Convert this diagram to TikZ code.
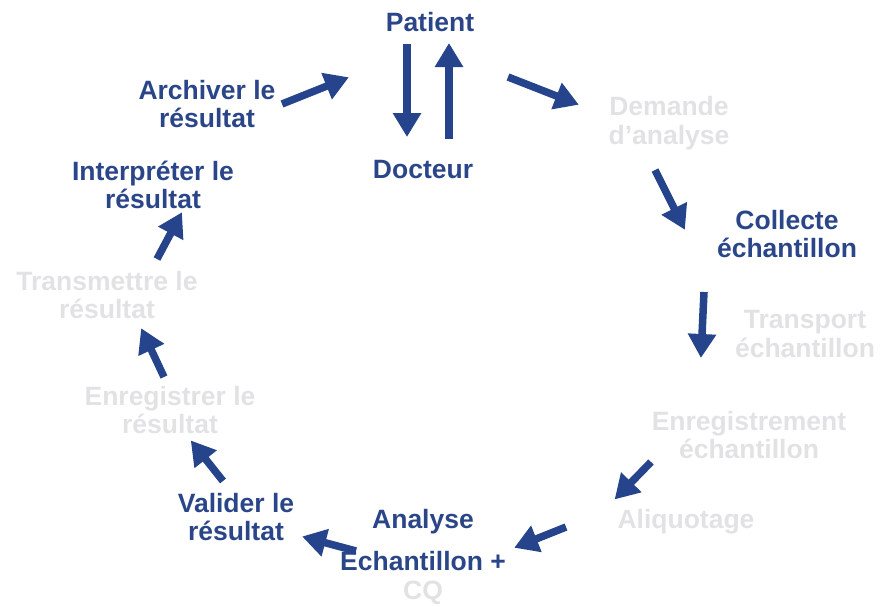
\documentclass[tikz,border=0pt]{standalone}
\usepackage{fontspec}
\setmainfont{Liberation Sans}
\usetikzlibrary{arrows.meta}
\definecolor{dblue}{RGB}{42,70,137}
\definecolor{ablue}{RGB}{38,68,140}
\definecolor{lgrey}{RGB}{226,226,228}
\tikzset{
  lbl/.style={font=\fontsize{26.5}{28.5}\selectfont\bfseries, align=center, inner sep=0pt},
  on/.style={lbl, text=dblue},
  off/.style={lbl, text=lgrey},
  flow/.style={draw=ablue, line width=7.5pt, -{Triangle[length=24pt,width=27pt]}, shorten >=-2pt},
}
\begin{document}
\begin{tikzpicture}[x=1pt,y=-1pt]
\useasboundingbox (0,0) rectangle (880,606);
% labels
\node[on]  (patient) at (430,22) {Patient};
\node[on]  (docteur) at (423,170) {Docteur};
\node[on]  (archiver) at (207,104) {Archiver le\\résultat};
\node[off] (demande) at (669,123) {Demande\\d’analyse};
\node[on]  (interp) at (153,185) {Interpréter le\\résultat};
\node[on]  (collecte) at (787,234) {Collecte\\échantillon};
\node[off] (transm) at (107,295) {Transmettre le\\résultat};
\node[off] (transport) at (805,334) {Transport\\échantillon};
\node[off] (enregr) at (170,410) {Enregistrer le\\résultat};
\node[off] (enregech) at (749,435) {Enregistrement\\échantillon};
\node[off] (aliquot) at (686,522) {Aliquotage};
\node[on]  (valider) at (236,517) {Valider le\\résultat};
\node[on]  (analyse) at (423,522) {Analyse};
\node[on]  (echcq) at (423,576) {Échantillon +\\\textcolor{lgrey}{CQ}};
% arrow ends
\coordinate (a1s) at (282,104); \coordinate (a1e) at (347,78);
\coordinate (a2s) at (407,44);  \coordinate (a2e) at (407,135);
\coordinate (a3s) at (449,139); \coordinate (a3e) at (449,45);
\coordinate (a4s) at (508,77);  \coordinate (a4e) at (577,104);
\coordinate (a5s) at (655,170); \coordinate (a5e) at (684,228);
\coordinate (a6s) at (704,292); \coordinate (a6e) at (701,356);
\coordinate (a7s) at (651,462); \coordinate (a7e) at (616,498);
\coordinate (a8s) at (566,527); \coordinate (a8e) at (516,547);
\coordinate (a9s) at (356,551); \coordinate (a9e) at (304,537);
\coordinate (a10s) at (223,481); \coordinate (a10e) at (192,442);
\coordinate (a11s) at (164,377); \coordinate (a11e) at (142,330);
\coordinate (a12s) at (157,259); \coordinate (a12e) at (181,214);
\draw[flow] (a1s) -- (a1e);
\draw[flow] (a2s) -- (a2e);
\draw[flow] (a3s) -- (a3e);
\draw[flow] (a4s) -- (a4e);
\draw[flow] (a5s) -- (a5e);
\draw[flow] (a6s) -- (a6e);
\draw[flow] (a7s) -- (a7e);
\draw[flow] (a8s) -- (a8e);
\draw[flow] (a9s) -- (a9e);
\draw[flow] (a10s) -- (a10e);
\draw[flow] (a11s) -- (a11e);
\draw[flow] (a12s) -- (a12e);
\end{tikzpicture}
\end{document}
